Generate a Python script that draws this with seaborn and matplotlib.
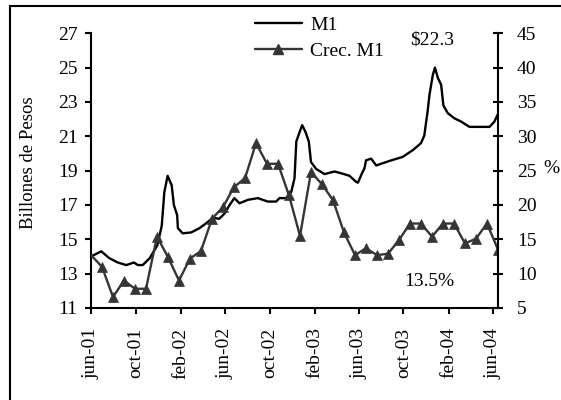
import matplotlib
matplotlib.use("Agg")
import matplotlib.pyplot as plt
from matplotlib.lines import Line2D
from matplotlib.patches import Rectangle
import seaborn as sns
import pandas as pd

# ---------------- data ----------------
m1_days = [0, 28, 50, 73, 96, 117, 128, 141, 160, 181, 193, 200, 209, 220, 226,
           235, 237, 250, 273, 296, 318, 332, 350, 364, 378, 391, 405, 428, 455,
           482, 505, 514, 532, 546, 555, 560, 569, 576, 585, 594, 600, 614, 637,
           664, 682, 705, 723, 728, 737, 746, 750, 764, 778, 791, 819, 850, 878,
           900, 909, 918, 923, 932, 938, 946, 955, 961, 973, 991, 1010, 1032,
           1059, 1087, 1100, 1110]
m1_values = [14.0, 14.3, 13.9, 13.65, 13.5, 13.65, 13.5, 13.5, 13.9, 14.65,
             15.8, 17.75, 18.7, 18.15, 17.0, 16.4, 15.65, 15.35, 15.4, 15.65,
             16.0, 16.25, 16.2, 16.5, 17.0, 17.4, 17.1, 17.3, 17.4, 17.2,
             17.2, 17.4, 17.4, 17.75, 18.55, 20.7, 21.25, 21.65, 21.25, 20.7,
             19.5, 19.1, 18.8, 18.95, 18.85, 18.7, 18.35, 18.3, 18.75, 19.15,
             19.6, 19.7, 19.3, 19.4, 19.6, 19.8, 20.2, 20.6, 21.05, 22.45,
             23.4, 24.55, 25.0, 24.4, 24.0, 22.8, 22.35, 22.05, 21.85, 21.55,
             21.55, 21.55, 21.85, 22.3]
crec_values = [12.7, 11.0, 6.6, 9.0, 7.8, 7.8, 15.4, 12.4, 9.0, 12.2, 13.3,
               18.0, 19.7, 22.6, 23.9, 29.0, 26.0, 26.0, 21.4, 15.5, 24.8,
               23.0, 20.7, 16.0, 12.7, 13.7, 12.7, 12.9, 14.9, 17.3, 17.3,
               15.4, 17.3, 17.3, 14.4, 15.1, 17.3, 13.5]
tick_dates = ["2001-06-01", "2001-10-01", "2002-02-01", "2002-06-01",
              "2002-10-01", "2003-02-01", "2003-06-01", "2003-10-01",
              "2004-02-01", "2004-06-01"]
tick_labels = ["jun-01", "oct-01", "feb-02", "jun-02", "oct-02", "feb-03",
               "jun-03", "oct-03", "feb-04", "jun-04"]
series_labels = ["M1", "Crec. M1"]
last_m1_text = "$22.3"
last_crec_text = "13.5%"

start = pd.Timestamp("2001-06-01")
m1_dates = start + pd.to_timedelta(m1_days, unit="D")
crec_dates = pd.date_range(start, periods=len(crec_values), freq="30D")

# ---------------- style ----------------
sns.set_style("ticks", {"axes.edgecolor": "black", "text.color": "black",
                        "xtick.color": "black", "ytick.color": "black",
                        "axes.labelcolor": "black"})
plt.rcParams["font.family"] = ["Liberation Serif", "DejaVu Serif"]

GRAY = "#353535"
W, H = 561, 400
fig = plt.figure(figsize=(W / 100, H / 100), dpi=100)
L, R, T, B = 91, 498, 33.3, 308
ax = fig.add_axes([L / W, 1 - B / H, (R - L) / W, (B - T) / H])
ax2 = ax.twinx()

sns.lineplot(x=m1_dates, y=m1_values, ax=ax, color="black", linewidth=1.7)
sns.lineplot(x=crec_dates, y=crec_values, ax=ax2, color=GRAY, linewidth=1.7,
             marker="^", markersize=7.5, markeredgecolor=GRAY,
             markerfacecolor=GRAY, markeredgewidth=0.5,
             markevery=list(range(1, len(crec_values))))

ax.set_xlim(start, pd.Timestamp("2004-06-15"))
ax.set_ylim(11, 27)
ax.set_yticks(range(11, 28, 2))
ax2.set_ylim(5, 45)
ax2.set_yticks(range(5, 46, 5))
ax.set_xticks(pd.to_datetime(tick_dates))
ax.set_xticklabels(tick_labels, rotation=90)
ax.set_xlabel("")

for a in (ax, ax2):
    for s in a.spines.values():
        s.set_linewidth(1.5)
    a.spines["top"].set_visible(False)
ax.spines["right"].set_visible(False)
ax2.spines["left"].set_visible(False)
ax2.spines["bottom"].set_visible(False)

ax.tick_params(axis="y", direction="out", length=4.3, width=1.5, pad=5.5,
               labelsize=14)
ax.tick_params(axis="x", direction="out", length=4, width=1.5, pad=10,
               labelsize=14)
ax2.tick_params(axis="y", direction="inout", length=6.5, width=1.5, pad=10.4,
                labelsize=14)

ax.set_ylabel("Billones de Pesos", fontsize=13.5)
ax.yaxis.set_label_coords(-0.1327, 0.528)
ax2.set_ylabel("%", rotation=0, ha="left", va="center", fontsize=14)
ax2.yaxis.set_label_coords((543 - L) / (R - L), 0.5096)

handles = [Line2D([], [], color="black", linewidth=1.7),
           Line2D([], [], color=GRAY, linewidth=1.7, marker="^",
                  markersize=7.5, markerfacecolor=GRAY, markeredgecolor=GRAY)]
fig.legend(handles, series_labels, loc="center left",
           bbox_to_anchor=(245 / W, 1 - 38 / H), frameon=False, borderpad=0,
           handlelength=2.42, handletextpad=0.42, labelspacing=0.4,
           fontsize=14)

fig.text(432 / W, 1 - 40 / H, last_m1_text, ha="center", va="center",
         fontsize=14)
fig.text(429 / W, 1 - 282 / H, last_crec_text, ha="center", va="center",
         fontsize=14)

fig.add_artist(Rectangle((10 / W, -0.1), 1.2, 1 - 5.5 / H + 0.1,
                         transform=fig.transFigure, fill=False,
                         edgecolor="black", linewidth=1.5, clip_on=False))

fig.savefig("out.png", dpi=100)
